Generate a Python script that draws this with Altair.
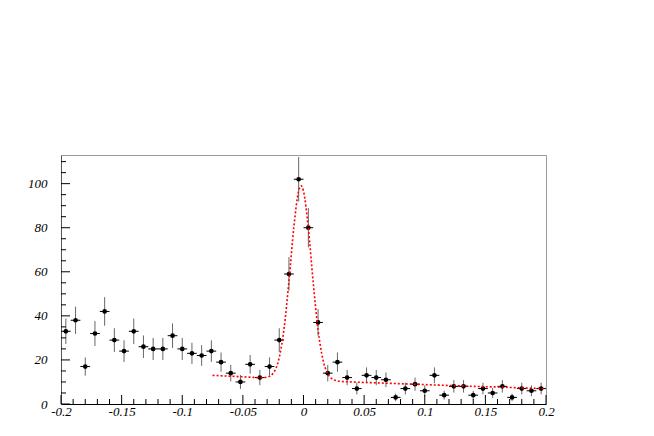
import altair as alt
import pandas as pd
import numpy as np

# Histogram bin centres (bin width 0.008) and counts
bin_x = [-0.196, -0.188, -0.180, -0.172, -0.164, -0.156, -0.148, -0.140, -0.132, -0.124,
         -0.116, -0.108, -0.100, -0.092, -0.084, -0.076, -0.068, -0.060, -0.052, -0.044,
         -0.036, -0.028, -0.020, -0.012, -0.004, 0.004, 0.012, 0.020, 0.028, 0.036,
         0.044, 0.052, 0.060, 0.068, 0.076, 0.084, 0.092, 0.100, 0.108, 0.116,
         0.124, 0.132, 0.140, 0.148, 0.156, 0.164, 0.172, 0.180, 0.188, 0.196]
counts = [33, 38, 17, 32, 42, 29, 24, 33, 26, 25,
          25, 31, 25, 23, 22, 24, 19, 14, 10, 18,
          12, 17, 29, 59, 102, 80, 37, 14, 19, 12,
          7, 13, 12, 11, 3, 7, 9, 6, 13, 4,
          8, 8, 4, 7, 5, 8, 3, 7, 6, 7]
half_bin = 0.004

# Fit curve
fit_x = [-0.075, -0.06, -0.045, -0.035, -0.03, -0.025, -0.02, -0.016, -0.012, -0.008,
         -0.004, -0.002, 0.0, 0.004, 0.008, 0.012, 0.016, 0.02, 0.025, 0.03,
         0.04, 0.06, 0.08, 0.1, 0.12, 0.14, 0.16, 0.18, 0.2]
fit_y = [13.0, 12.6, 12.2, 11.9, 12.2, 14.0, 21.1, 34.4, 55.7, 80.0,
         96.7, 99.0, 96.6, 79.7, 55.2, 33.7, 20.2, 13.7, 11.0, 10.3,
         10.0, 9.6, 9.2, 8.8, 8.4, 8.0, 7.7, 7.3, 7.0]

# Axis ticks
x_major = [-0.2, -0.15, -0.1, -0.05, 0, 0.05, 0.1, 0.15, 0.2]
x_minor = [-0.19, -0.18, -0.17, -0.16, -0.14, -0.13, -0.12, -0.11, -0.09, -0.08, -0.07, -0.06,
           -0.04, -0.03, -0.02, -0.01, 0.01, 0.02, 0.03, 0.04, 0.06, 0.07, 0.08, 0.09,
           0.11, 0.12, 0.13, 0.14, 0.16, 0.17, 0.18, 0.19]
y_major = [0, 20, 40, 60, 80, 100]
y_minor = [5, 10, 15, 25, 30, 35, 45, 50, 55, 65, 70, 75, 85, 90, 95, 105, 110]

W, H = 485, 249
XD = [-0.2, 0.2]
YD = [0, 113]
FONT = "Liberation Serif"

df = pd.DataFrame({"x": bin_x, "n": counts})
df["err"] = np.sqrt(df["n"])
df["lo"] = df["n"] - df["err"]
df["hi"] = df["n"] + df["err"]
df["xl"] = df["x"] - half_bin
df["xh"] = df["x"] + half_bin

fit_df = pd.DataFrame({"x": fit_x, "y": fit_y})

xs = alt.Scale(domain=XD, nice=False, zero=False)
ys = alt.Scale(domain=YD, nice=False, zero=False)

lab = dict(labelFont=FONT, labelFontStyle="italic", labelFontSize=13, labelFontWeight="normal",
           labelColor="black", ticks=False, grid=False, title=None)
xaxis = alt.Axis(values=x_major, labelExpr="toString(datum.value)",
                 labelPadding=1, domainColor="black", labelFlush=False, **lab)
yaxis = alt.Axis(values=y_major, labelPadding=14, domainColor="#555555", **lab)


def X(f):
    return alt.X(f, scale=xs, axis=xaxis)


def Y(f):
    return alt.Y(f, scale=ys, axis=yaxis)


vbars = alt.Chart(df).mark_rule(color="#666666", strokeWidth=1).encode(
    x=X("x:Q"), y=Y("lo:Q"), y2="hi:Q",
)
hbars = alt.Chart(df).mark_rule(color="black", strokeWidth=1).encode(
    x=X("xl:Q"), x2="xh:Q", y=Y("n:Q"),
)
pts = alt.Chart(df).mark_point(filled=True, color="black", opacity=1, size=22, shape="circle").encode(
    x=X("x:Q"), y=Y("n:Q"),
)
fit = alt.Chart(fit_df).mark_line(color="#ff0000", strokeWidth=1.6, strokeDash=[2, 2],
                                  interpolate="monotone").encode(
    x=X("x:Q"), y=Y("y:Q"),
)


def xticks(vals, length):
    return alt.Chart(pd.DataFrame({"t": vals})).mark_rule(color="black", strokeWidth=1).encode(
        x=X("t:Q"), y=alt.value(H), y2=alt.value(H - length))


def yticks(vals, length):
    return alt.Chart(pd.DataFrame({"t": vals})).mark_rule(color="black", strokeWidth=1).encode(
        y=Y("t:Q"), x=alt.value(0), x2=alt.value(length))


chart = alt.layer(
    vbars, xticks(x_minor, 5), xticks(x_major, 9), yticks(y_minor, 5), yticks(y_major, 9),
    hbars, pts, fit
).properties(
    width=W, height=H,
    autosize=alt.AutoSizeParams(type="none"),
    padding={"left": 53, "top": 147, "right": 100, "bottom": 30},
    background="white",
).configure_view(stroke="#9a9a9a", strokeWidth=1).configure_axis(
    labelFont=FONT, labelFontStyle="italic", labelFontSize=13, labelColor="black"
)

chart.save("out.html", embed_options={"renderer": "svg", "actions": False})
